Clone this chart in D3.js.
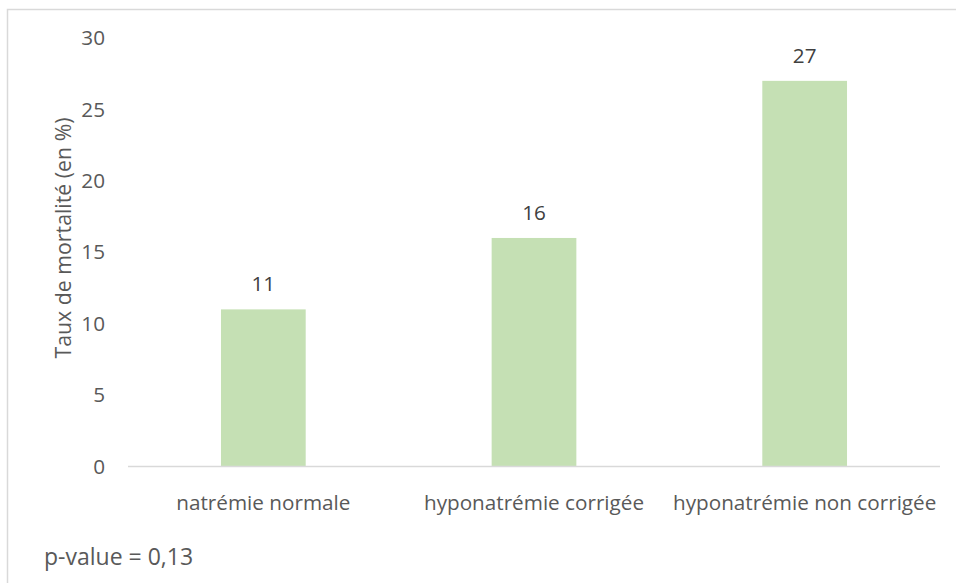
<!DOCTYPE html>
<html>
<head>
<meta charset="utf-8">
<script src="https://cdn.jsdelivr.net/npm/d3@7"></script>
<style>
  html, body { margin: 0; padding: 0; background: #fff; }
  svg { display: block; }
  text { font-family: "Open Sans", "Noto Sans", sans-serif; }
</style>
</head>
<body>
<div id="chart"></div>
<script>
const categories = ["natrémie normale", "hyponatrémie corrigée", "hyponatrémie non corrigée"];
const values = [11, 16, 27];
const yTicks = [0, 5, 10, 15, 20, 25, 30];
const yTitle = "Taux de mortalité (en %)";
const note = "p-value = 0,13";

const W = 956, H = 583;
const FONT = '"Open Sans", "Noto Sans", sans-serif';
const svg = d3.select("#chart").append("svg").attr("width", W).attr("height", H);

// outer chart border (cropped on right/bottom)
svg.append("rect")
  .attr("x", 7.5).attr("y", 9.5)
  .attr("width", W + 10).attr("height", H + 10)
  .attr("fill", "#fff").attr("stroke", "#d9d9d9").attr("stroke-width", 1.5);

const plot = { left: 128, right: 940, top: 38, bottom: 466.5 };

const x = d3.scaleBand()
  .domain(categories)
  .range([plot.left, plot.right])
  .paddingInner(0.687)
  .paddingOuter(0.3435);

const y = d3.scaleLinear().domain([0, 30]).range([plot.bottom, plot.top]);

const textColor = "#595959";
const fs = 20.7;

// y-axis tick labels
const yAxis = d3.axisLeft(y).tickValues(yTicks).tickSize(0).tickPadding(0);
const gy = svg.append("g").attr("transform", `translate(105,0)`).call(yAxis);
gy.select(".domain").remove();
gy.selectAll("text")
  .attr("fill", textColor)
  .style("font-size", fs + "px")
  .style("font-family", FONT);

// bars
svg.append("g").selectAll("rect")
  .data(values)
  .join("rect")
  .attr("x", (d, i) => x(categories[i]))
  .attr("y", d => y(d))
  .attr("width", x.bandwidth())
  .attr("height", d => y(0) - y(d))
  .attr("fill", "#c5e0b4");

// x axis
const xAxis = d3.axisBottom(x).tickSize(0).tickPadding(0);
const gx = svg.append("g").attr("transform", `translate(0,${plot.bottom})`).call(xAxis);
gx.select(".domain").attr("stroke", "#d9d9d9").attr("stroke-width", 1.5)
  .attr("d", `M${plot.left},0H${plot.right}`);
gx.selectAll("text")
  .attr("fill", textColor)
  .attr("dy", null)
  .attr("y", 43.5)
  .style("font-size", fs + "px")
  .style("font-family", FONT);

// value labels
svg.append("g").selectAll("text")
  .data(values)
  .join("text")
  .attr("x", (d, i) => x(categories[i]) + x.bandwidth() / 2)
  .attr("y", d => y(d) - 18)
  .attr("text-anchor", "middle")
  .attr("fill", "#404040")
  .style("font-size", fs + "px")
  .text(d => d);

// y title
svg.append("text")
  .attr("transform", `translate(71,238) rotate(-90)`)
  .attr("text-anchor", "middle")
  .attr("fill", textColor)
  .style("font-size", "21.3px")
  .text(yTitle);

// note
svg.append("text")
  .attr("x", 44).attr("y", 565)
  .attr("fill", textColor)
  .style("font-size", "23px")
  .text(note);
</script>
</body>
</html>
